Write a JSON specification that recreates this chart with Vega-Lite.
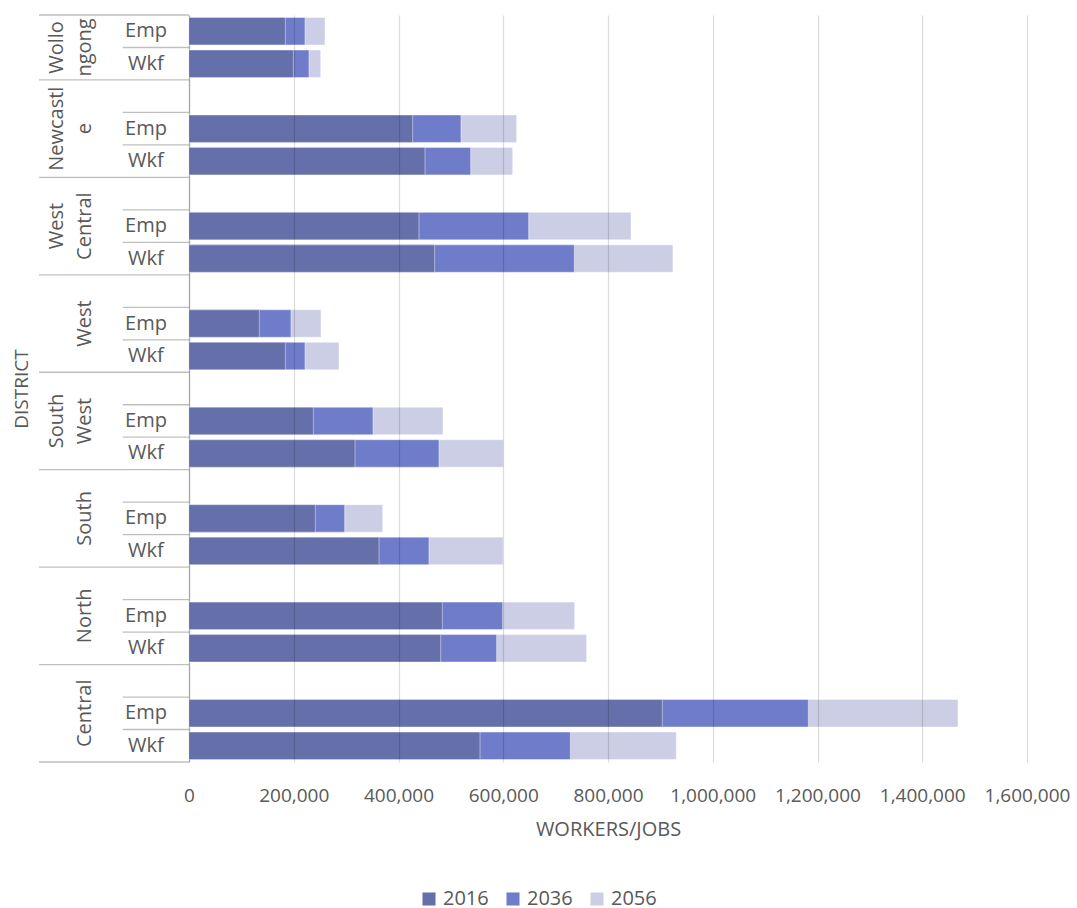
{
  "$schema": "https://vega.github.io/schema/vega-lite/v6.json",
  "background": "white",
  "padding": {"left": 12, "top": 14, "right": 0, "bottom": 0},
  "bounds": "flush",
  "config": {
    "font": "Open Sans",
    "view": {"stroke": null},
    "concat": {"spacing": 0},
    "axis": {"labelFont": "Open Sans", "titleFont": "Open Sans", "labelColor": "#595959", "titleColor": "#595959", "titleFontWeight": "normal"},
    "legend": {"labelFont": "Open Sans", "labelColor": "#595959"}
  },
  "datasets": {
    "bars": [
      {"district": "Wollongong", "type": "Emp", "year": "2056", "value": 259700},
      {"district": "Wollongong", "type": "Wkf", "year": "2056", "value": 251400},
      {"district": "Newcastle", "type": "Emp", "year": "2056", "value": 625600},
      {"district": "Newcastle", "type": "Wkf", "year": "2056", "value": 618000},
      {"district": "West Central", "type": "Emp", "year": "2056", "value": 843900},
      {"district": "West Central", "type": "Wkf", "year": "2056", "value": 924000},
      {"district": "West", "type": "Emp", "year": "2056", "value": 252000},
      {"district": "West", "type": "Wkf", "year": "2056", "value": 286400},
      {"district": "South West", "type": "Emp", "year": "2056", "value": 485000},
      {"district": "South West", "type": "Wkf", "year": "2056", "value": 600100},
      {"district": "South", "type": "Emp", "year": "2056", "value": 369800},
      {"district": "South", "type": "Wkf", "year": "2056", "value": 599500},
      {"district": "North", "type": "Emp", "year": "2056", "value": 736300},
      {"district": "North", "type": "Wkf", "year": "2056", "value": 759200},
      {"district": "Central", "type": "Emp", "year": "2056", "value": 1468300},
      {"district": "Central", "type": "Wkf", "year": "2056", "value": 930400},
      {"district": "Wollongong", "type": "Emp", "year": "2036", "value": 221500},
      {"district": "Wollongong", "type": "Wkf", "year": "2036", "value": 229100},
      {"district": "Newcastle", "type": "Emp", "year": "2036", "value": 519300},
      {"district": "Newcastle", "type": "Wkf", "year": "2036", "value": 537800},
      {"district": "West Central", "type": "Emp", "year": "2036", "value": 648500},
      {"district": "West Central", "type": "Wkf", "year": "2036", "value": 735700},
      {"district": "West", "type": "Emp", "year": "2036", "value": 194700},
      {"district": "West", "type": "Wkf", "year": "2036", "value": 221500},
      {"district": "South West", "type": "Emp", "year": "2036", "value": 351300},
      {"district": "South West", "type": "Wkf", "year": "2036", "value": 477300},
      {"district": "South", "type": "Emp", "year": "2036", "value": 297200},
      {"district": "South", "type": "Wkf", "year": "2036", "value": 458200},
      {"district": "North", "type": "Emp", "year": "2036", "value": 598900},
      {"district": "North", "type": "Wkf", "year": "2036", "value": 587400},
      {"district": "Central", "type": "Emp", "year": "2036", "value": 1182500},
      {"district": "Central", "type": "Wkf", "year": "2036", "value": 728100},
      {"district": "Wollongong", "type": "Emp", "year": "2016", "value": 184000},
      {"district": "Wollongong", "type": "Wkf", "year": "2016", "value": 199200},
      {"district": "Newcastle", "type": "Emp", "year": "2016", "value": 427000},
      {"district": "Newcastle", "type": "Wkf", "year": "2016", "value": 450600},
      {"district": "West Central", "type": "Emp", "year": "2016", "value": 439100},
      {"district": "West Central", "type": "Wkf", "year": "2016", "value": 469000},
      {"district": "West", "type": "Emp", "year": "2016", "value": 134300},
      {"district": "West", "type": "Wkf", "year": "2016", "value": 183900},
      {"district": "South West", "type": "Emp", "year": "2016", "value": 237400},
      {"district": "South West", "type": "Wkf", "year": "2016", "value": 316900},
      {"district": "South", "type": "Emp", "year": "2016", "value": 241200},
      {"district": "South", "type": "Wkf", "year": "2016", "value": 362800},
      {"district": "North", "type": "Emp", "year": "2016", "value": 483700},
      {"district": "North", "type": "Wkf", "year": "2016", "value": 480500},
      {"district": "Central", "type": "Emp", "year": "2016", "value": 903700},
      {"district": "Central", "type": "Wkf", "year": "2016", "value": 555600}
    ],
    "rows": [
      {"district": "Wollongong", "type": "Emp"},
      {"district": "Wollongong", "type": "Wkf"},
      {"district": "Newcastle", "type": ""},
      {"district": "Newcastle", "type": "Emp"},
      {"district": "Newcastle", "type": "Wkf"},
      {"district": "West Central", "type": ""},
      {"district": "West Central", "type": "Emp"},
      {"district": "West Central", "type": "Wkf"},
      {"district": "West", "type": ""},
      {"district": "West", "type": "Emp"},
      {"district": "West", "type": "Wkf"},
      {"district": "South West", "type": ""},
      {"district": "South West", "type": "Emp"},
      {"district": "South West", "type": "Wkf"},
      {"district": "South", "type": ""},
      {"district": "South", "type": "Emp"},
      {"district": "South", "type": "Wkf"},
      {"district": "North", "type": ""},
      {"district": "North", "type": "Emp"},
      {"district": "North", "type": "Wkf"},
      {"district": "Central", "type": ""},
      {"district": "Central", "type": "Emp"},
      {"district": "Central", "type": "Wkf"}
    ],
    "districts": [
      {"district": "Wollongong", "label": "Wollo|ngong"},
      {"district": "Newcastle", "label": "Newcastl|e"},
      {"district": "West Central", "label": "West|Central"},
      {"district": "West", "label": "West"},
      {"district": "South West", "label": "South|West"},
      {"district": "South", "label": "South"},
      {"district": "North", "label": "North"},
      {"district": "Central", "label": "Central"}
    ]
  },
  "hconcat": [
    {
      "width": 150,
      "height": 747,
      "layer": [
        {
          "data": {"name": "rows"},
          "transform": [
            {"calculate": "datum.district + '~' + datum.type", "as": "key"},
            {"filter": "datum.type === 'Wkf' || (datum.type === 'Emp' && datum.district !== 'Wollongong')"}
          ],
          "mark": {"type": "rule", "color": "#BFBFBF", "strokeWidth": 1.3},
          "encoding": {
            "y": {"field": "key", "type": "nominal", "bandPosition": 0,
              "scale": {"domain": ["Wollongong~Emp","Wollongong~Wkf","Newcastle~","Newcastle~Emp","Newcastle~Wkf","West Central~","West Central~Emp","West Central~Wkf","West~","West~Emp","West~Wkf","South West~","South West~Emp","South West~Wkf","South~","South~Emp","South~Wkf","North~","North~Emp","North~Wkf","Central~","Central~Emp","Central~Wkf"], "paddingInner": 0, "paddingOuter": 0},
              "axis": {"title": "DISTRICT", "titleFontSize": 19, "titlePadding": 8, "labels": false, "ticks": false, "domain": false, "grid": false}},
            "x": {"datum": 0.558, "type": "quantitative", "scale": {"domain": [0, 1], "nice": false}, "axis": null},
            "x2": {"datum": 1}
          }
        },
        {
          "data": {"name": "rows"},
          "transform": [
            {"calculate": "datum.district + '~' + datum.type", "as": "key"},
            {"filter": "datum.type === '' || datum.key === 'Wollongong~Emp'"}
          ],
          "mark": {"type": "rule", "color": "#BFBFBF", "strokeWidth": 1.3},
          "encoding": {
            "y": {"field": "key", "type": "nominal", "bandPosition": 0,
              "axis": {"title": "DISTRICT", "titleFontSize": 19, "titlePadding": 8, "labels": false, "ticks": false, "domain": false, "grid": false}},
            "x": {"datum": 0, "type": "quantitative"},
            "x2": {"datum": 1}
          }
        },
        {
          "data": {"name": "rows"},
          "transform": [
            {"calculate": "datum.district + '~' + datum.type", "as": "key"},
            {"filter": "datum.key === 'Central~Wkf'"}
          ],
          "mark": {"type": "rule", "color": "#BFBFBF", "strokeWidth": 1.3},
          "encoding": {
            "y": {"field": "key", "type": "nominal", "bandPosition": 1,
              "axis": {"title": "DISTRICT", "titleFontSize": 19, "titlePadding": 8, "labels": false, "ticks": false, "domain": false, "grid": false}},
            "x": {"datum": 0, "type": "quantitative"},
            "x2": {"datum": 1}
          }
        },
        {
          "data": {"name": "rows"},
          "transform": [
            {"calculate": "datum.district + '~' + datum.type", "as": "key"},
            {"filter": "datum.type !== ''"}
          ],
          "mark": {"type": "text", "fontSize": 20, "color": "#595959", "align": "center", "baseline": "middle", "font": "Open Sans"},
          "encoding": {
            "y": {"field": "key", "type": "nominal",
              "axis": {"title": "DISTRICT", "titleFontSize": 19, "titlePadding": 8, "labels": false, "ticks": false, "domain": false, "grid": false}},
            "x": {"datum": 0.713, "type": "quantitative"},
            "text": {"field": "type", "type": "nominal"}
          }
        },
        {
          "data": {"name": "districts"},
          "transform": [
            {"calculate": "datum.district + '~Emp'", "as": "key"},
            {"filter": "datum.district !== 'Wollongong' && indexof(datum.label, '|') < 0"}
          ],
          "mark": {"type": "text", "fontSize": 20, "color": "#595959", "align": "center", "baseline": "bottom", "angle": 270, "lineBreak": "|", "lineHeight": 28, "font": "Open Sans"},
          "encoding": {
            "y": {"field": "key", "type": "nominal",
              "axis": {"title": "DISTRICT", "titleFontSize": 19, "titlePadding": 8, "labels": false, "ticks": false, "domain": false, "grid": false}},
            "x": {"datum": 0.373, "type": "quantitative"},
            "text": {"field": "label", "type": "nominal"}
          }
        },
        {
          "data": {"name": "districts"},
          "transform": [
            {"calculate": "datum.district + '~Emp'", "as": "key"},
            {"filter": "datum.district !== 'Wollongong' && indexof(datum.label, '|') >= 0"}
          ],
          "mark": {"type": "text", "fontSize": 20, "color": "#595959", "align": "center", "baseline": "bottom", "angle": 270, "lineBreak": "|", "lineHeight": 28, "font": "Open Sans"},
          "encoding": {
            "y": {"field": "key", "type": "nominal",
              "axis": {"title": "DISTRICT", "titleFontSize": 19, "titlePadding": 8, "labels": false, "ticks": false, "domain": false, "grid": false}},
            "x": {"datum": 0.187, "type": "quantitative"},
            "text": {"field": "label", "type": "nominal"}
          }
        },
        {
          "data": {"name": "districts"},
          "transform": [
            {"calculate": "datum.district + '~Emp'", "as": "key"},
            {"filter": "datum.district === 'Wollongong'"}
          ],
          "mark": {"type": "text", "fontSize": 20, "color": "#595959", "align": "center", "baseline": "bottom", "angle": 270, "lineBreak": "|", "lineHeight": 28, "font": "Open Sans"},
          "encoding": {
            "y": {"field": "key", "type": "nominal", "bandPosition": 1,
              "axis": {"title": "DISTRICT", "titleFontSize": 19, "titlePadding": 8, "labels": false, "ticks": false, "domain": false, "grid": false}},
            "x": {"datum": 0.187, "type": "quantitative"},
            "text": {"field": "label", "type": "nominal"}
          }
        }
      ]
    },
    {
      "width": 838,
      "height": 747,
      "data": {"name": "bars"},
      "transform": [{"calculate": "datum.district + '~' + datum.type", "as": "key"}],
      "mark": {"type": "bar", "height": {"band": 0.846}, "stroke": "#ffffff", "strokeOpacity": 0.45, "strokeWidth": 1},
      "encoding": {
        "y": {"field": "key", "type": "nominal",
          "scale": {"domain": ["Wollongong~Emp","Wollongong~Wkf","Newcastle~","Newcastle~Emp","Newcastle~Wkf","West Central~","West Central~Emp","West Central~Wkf","West~","West~Emp","West~Wkf","South West~","South West~Emp","South West~Wkf","South~","South~Emp","South~Wkf","North~","North~Emp","North~Wkf","Central~","Central~Emp","Central~Wkf"], "paddingInner": 0, "paddingOuter": 0},
          "axis": {"title": null, "labels": false, "ticks": false, "grid": false, "domainColor": "#BFBFBF", "domainWidth": 1.3, "minExtent": 0}},
        "x": {"field": "value", "type": "quantitative", "stack": null,
          "scale": {"domain": [0, 1600000], "nice": false},
          "axis": {"values": [0, 200000, 400000, 600000, 800000, 1000000, 1200000, 1400000, 1600000], "format": ",d",
            "grid": true, "gridColor": "#000000", "gridOpacity": 0.14, "gridWidth": 1.2,
            "domain": false, "ticks": false, "tickSize": 0, "labelFlush": false, "labelOverlap": false,
            "labelFontSize": 19, "labelPadding": 24, "title": "WORKERS/JOBS", "titleFontSize": 20, "titlePadding": 14, "zindex": 1}},
        "color": {"field": "year", "type": "nominal",
          "scale": {"domain": ["2016", "2036", "2056"], "range": ["#656FA9", "#6F7CCA", "#CCCEE5"]},
          "legend": {"orient": "none", "legendX": 380, "legendY": 874, "direction": "horizontal", "title": null, "symbolType": "square", "symbolSize": 170, "symbolStrokeWidth": 0, "labelFontSize": 20, "columnPadding": 14, "labelOffset": 4}}
      }
    }
  ]
}
